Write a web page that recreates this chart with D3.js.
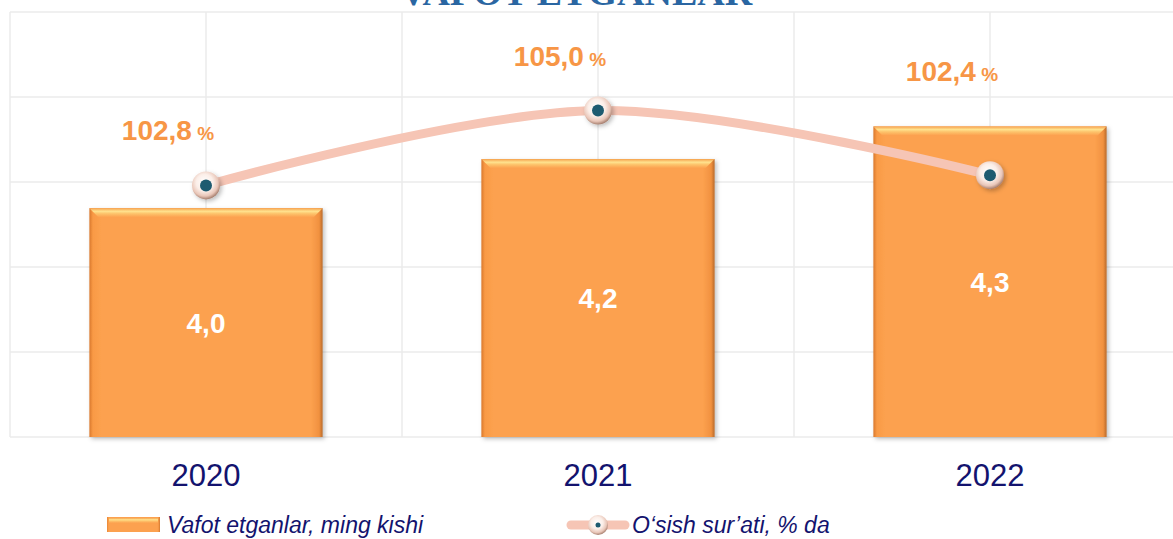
<!DOCTYPE html>
<html>
<head>
<meta charset="utf-8">
<script src="https://cdn.jsdelivr.net/npm/d3@7/dist/d3.min.js"></script>
<style>
  html, body { margin: 0; padding: 0; background: #fff; overflow: hidden; }
  svg { display: block; }
</style>
</head>
<body>
<svg id="chart" width="1173" height="539"></svg>
<script>
// ---- data ----
const years = ["2020", "2021", "2022"];
const deaths = [4.02, 4.17, 4.27];            // Vafot etganlar, ming kishi
const growthLabels = ["102,8", "105,0", "102,4"]; // O‘sish sur’ati, % da (labels)
const growthPlot = [2.96, 3.84, 3.08];        // line position on hidden secondary axis
const title = "VAFOT ETGANLAR";
const legendBar = "Vafot etganlar, ming kishi";
const legendLine = "O‘sish sur’ati, % da";

// ---- layout ----
const svg = d3.select("#chart");
const plot = { left: 10, right: 1186, top: 12, bottom: 437 };

const x = d3.scaleBand().domain(years).range([plot.left, plot.right])
  .paddingInner(0.405).paddingOuter(0.2025);
const y = d3.scaleLinear().domain([3.32, 4.62]).range([plot.bottom, plot.top]);
const y2 = d3.scaleLinear().domain([0, 5]).range([plot.bottom, plot.top]);
const step = x.step();
const cx = d => x(d) + x.bandwidth() / 2;

const defs = svg.append("defs");
const bg = defs.append("linearGradient").attr("id", "barBody").attr("x1", 0).attr("x2", 1).attr("y1", 0).attr("y2", 0);
[[0, "#d9782c"], [0.015, "#f99a45"], [0.05, "#fca14f"], [0.95, "#fca14f"], [0.985, "#f1913f"], [1, "#b86a2a"]]
  .forEach(([o, c]) => bg.append("stop").attr("offset", o).attr("stop-color", c));
const tg = defs.append("linearGradient").attr("id", "barTop").attr("x1", 0).attr("x2", 0).attr("y1", 0).attr("y2", 1);
[[0, "#f6a24e"], [0.35, "#ffe28e"], [0.6, "#fdc46c"], [1, "#fca14f"]]
  .forEach(([o, c]) => tg.append("stop").attr("offset", o).attr("stop-color", c));
const f = defs.append("filter").attr("id", "shadow").attr("x", "-10%").attr("y", "-10%").attr("width", "130%").attr("height", "130%");
f.append("feDropShadow").attr("dx", 2).attr("dy", 2).attr("stdDeviation", 2).attr("flood-color", "#000").attr("flood-opacity", 0.25);
const mg = defs.append("radialGradient").attr("id", "markerGrad").attr("cx", "45%").attr("cy", "40%").attr("r", "60%");
[[0, "#ffffff"], [0.5, "#fbeee8"], [0.8, "#e9c6b8"], [1, "#a57e6e"]]
  .forEach(([o, c]) => mg.append("stop").attr("offset", o).attr("stop-color", c));

// ---- title (clipped at top, as in the original) ----
svg.append("text").attr("x", 576).attr("y", 5).attr("text-anchor", "middle")
  .attr("font-family", "Liberation Serif, serif").attr("font-weight", "bold").attr("font-size", 38)
  .attr("fill", "#2a66a2").text(title);

// ---- gridlines ----
const grid = svg.append("g").attr("stroke", "#ebebeb").attr("stroke-width", 1.5);
const ticks = d3.range(6).map(i => y.domain()[0] + i * (y.domain()[1] - y.domain()[0]) / 5);
grid.selectAll("line.h").data(ticks).join("line")
  .attr("x1", plot.left).attr("x2", plot.right).attr("y1", d => y(d)).attr("y2", d => y(d));
const vx = [];
years.forEach(d => { vx.push(cx(d) - step / 2, cx(d)); });
vx.push(cx(years[years.length - 1]) + step / 2);
grid.selectAll("line.v").data(vx).join("line")
  .attr("x1", d => d).attr("x2", d => d).attr("y1", plot.top).attr("y2", plot.bottom);

// ---- bars ----
const bars = svg.append("g");
years.forEach((yr, i) => {
  const bx = x(yr), bw = x.bandwidth(), by = y(deaths[i]), bh = plot.bottom - by;
  const g = bars.append("g");
  g.append("rect").attr("x", bx).attr("y", by).attr("width", bw).attr("height", bh)
    .attr("fill", "url(#barBody)").attr("filter", "url(#shadow)");
  const bev = 9;
  g.append("path")
    .attr("d", `M${bx},${by} L${bx + bw},${by} L${bx + bw - bev},${by + bev} L${bx + bev},${by + bev} Z`)
    .attr("fill", "url(#barTop)");
  g.append("text").attr("x", cx(yr)).attr("y", by + bh / 2 + 10).attr("text-anchor", "middle")
    .attr("font-family", "Liberation Sans, Arial, sans-serif").attr("font-weight", "bold")
    .attr("font-size", 28).attr("fill", "#fff")
    .text(d3.format(".1f")(deaths[i]).replace(".", ","));
});

// ---- line ----
const pts = years.map((yr, i) => [cx(yr), y2(growthPlot[i])]);
svg.append("path").attr("d", d3.line().curve(d3.curveCatmullRom.alpha(0.5))(pts))
  .attr("fill", "none").attr("stroke", "#f6c5b5").attr("stroke-width", 9).attr("stroke-linecap", "round");
const mk = svg.append("g");
pts.forEach(p => {
  mk.append("circle").attr("cx", p[0]).attr("cy", p[1]).attr("r", 14).attr("fill", "url(#markerGrad)")
    .attr("filter", "url(#shadow)");
  mk.append("circle").attr("cx", p[0]).attr("cy", p[1]).attr("r", 6).attr("fill", "#1e5b70");
});

// ---- growth labels ----
years.forEach((yr, i) => {
  const top = Math.min(pts[i][1], y(deaths[i]));
  const t = svg.append("text").attr("x", cx(yr) - 38).attr("y", top - 45).attr("text-anchor", "middle")
    .attr("font-family", "Liberation Sans, Arial, sans-serif").attr("font-weight", "bold").attr("fill", "#f79646");
  t.append("tspan").attr("font-size", 28).text(growthLabels[i]);
  t.append("tspan").attr("font-size", 19).text(" %");
});

// ---- x axis labels ----
svg.append("g").selectAll("text").data(years).join("text")
  .attr("x", d => cx(d)).attr("y", 486).attr("text-anchor", "middle")
  .attr("font-family", "Liberation Sans, Arial, sans-serif").attr("font-size", 31).attr("fill", "#13136e")
  .text(d => d);

// ---- legend ----
const lg = svg.append("g");
lg.append("rect").attr("x", 107).attr("y", 517).attr("width", 53).attr("height", 15).attr("fill", "url(#barBody)");
lg.append("rect").attr("x", 109).attr("y", 518).attr("width", 49).attr("height", 5).attr("fill", "url(#barTop)");
lg.append("text").attr("x", 167).attr("y", 533).attr("font-family", "Liberation Sans, Arial, sans-serif")
  .attr("font-style", "italic").attr("font-size", 23).attr("fill", "#13136e").text(legendBar);
lg.append("line").attr("x1", 571).attr("x2", 625).attr("y1", 525).attr("y2", 525)
  .attr("stroke", "#f6c5b5").attr("stroke-width", 9).attr("stroke-linecap", "round");
lg.append("circle").attr("cx", 598).attr("cy", 525).attr("r", 10).attr("fill", "url(#markerGrad)");
lg.append("circle").attr("cx", 598).attr("cy", 525).attr("r", 2.5).attr("fill", "#1e5b70");
lg.append("text").attr("x", 632).attr("y", 533).attr("font-family", "Liberation Sans, Arial, sans-serif")
  .attr("font-style", "italic").attr("font-size", 23).attr("fill", "#13136e").text(legendLine);
</script>
</body>
</html>
